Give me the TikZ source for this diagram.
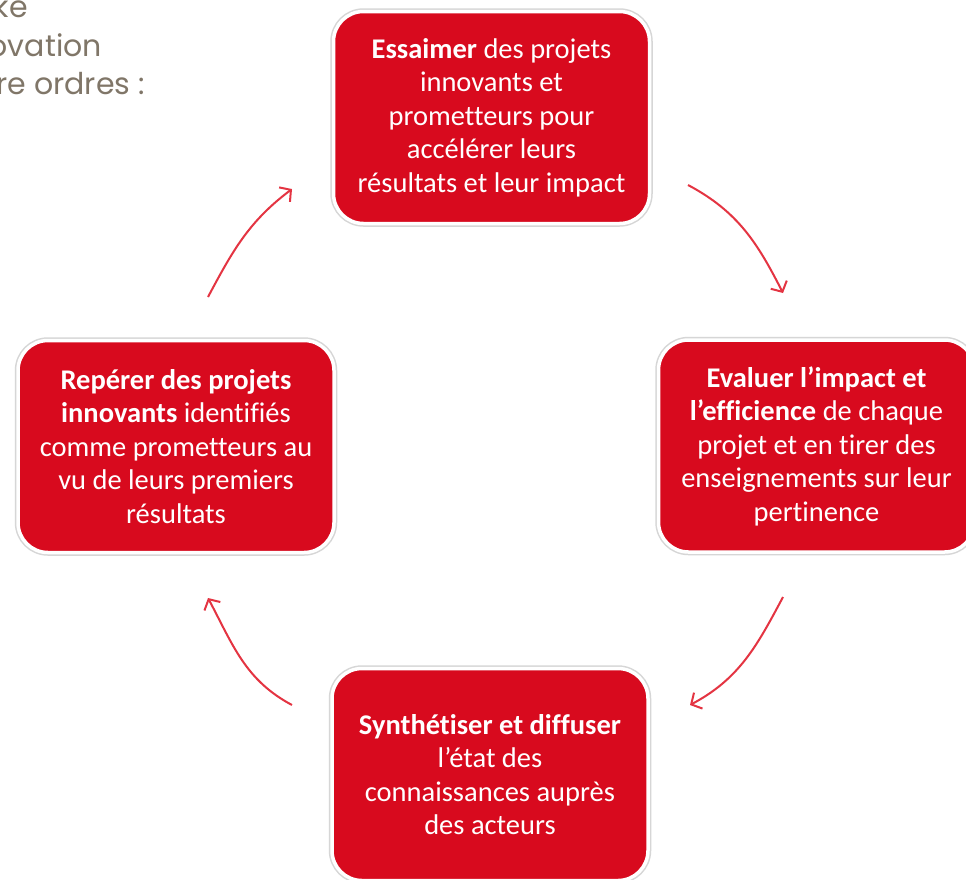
\documentclass[tikz,border=0pt]{standalone}
\usepackage{fontspec}
\setmainfont{Carlito}[Ligatures=NoCommon]
\newfontfamily\gothic{Poppins}
\usetikzlibrary{arrows.meta}
\definecolor{boxred}{RGB}{216,10,30}
\definecolor{arrred}{RGB}{228,52,66}
\definecolor{introgray}{RGB}{128,118,104}
\begin{document}
\begin{tikzpicture}[x=1pt,y=1pt,
  box/.style={rectangle, rounded corners=30pt, minimum width=316pt, minimum height=212pt,
    fill=boxred, draw=white, line width=3.5pt, preaction={draw=black!16, line width=6.5pt},
    text=white, align=center, font=\fontsize{28.5}{33.5}\selectfont, inner sep=0pt},
  intro/.style={text=introgray, font=\gothic\fontsize{30}{36}\selectfont, inner sep=0pt, anchor=base east},
  arr/.style={draw=arrred, line width=2pt, -{Straight Barb[length=8pt,width=18pt]}}]
\useasboundingbox (0,0) rectangle (966,-879);
\clip (0,0) rectangle (966,-879);
\fill[white] (0,0) rectangle (966,-879);

\node[intro] (l1) at (28,-17) {ke};
\node[intro] (l2) at (102,-56) {ovation};
\node[intro] (l3) at (145,-94) {re ordres :};

\node[box] (top) at (491.5,-117.5) {\textbf{Essaimer} des projets\\innovants et\\prometteurs pour\\accélérer leurs\\résultats et leur impact};
\node[box] (right) at (816.5,-446) {\textbf{Evaluer l’impact et}\\\textbf{l’efficience} de chaque\\projet et en tirer des\\enseignements sur leur\\pertinence};
\node[box] (bottom) at (490,-774.5) {\textbf{Synthétiser et diffuser}\\l’état des\\connaissances auprès\\des acteurs};
\node[box] (left) at (176,-446.5) {\textbf{Repérer des projets}\\\textbf{innovants} identifiés\\comme prometteurs au\\vu de leurs premiers\\résultats};

\coordinate (a1s) at (208,-297);
\coordinate (a1e) at (292,-189);
\coordinate (a2s) at (688,-185);
\coordinate (a2e) at (783,-293);
\coordinate (a3s) at (783,-597);
\coordinate (a3e) at (690,-705);
\coordinate (a4s) at (292,-705);
\coordinate (a4e) at (208,-598);

\draw[arr] (a1s) to[out=62,in=-143] (a1e);
\draw[arr] (a2s) to[out=-28,in=117] (a2e);
\draw[arr] (a3s) to[out=-118,in=28] (a3e);
\draw[arr] (a4s) to[out=152,in=-62] (a4e);
\end{tikzpicture}
\end{document}
